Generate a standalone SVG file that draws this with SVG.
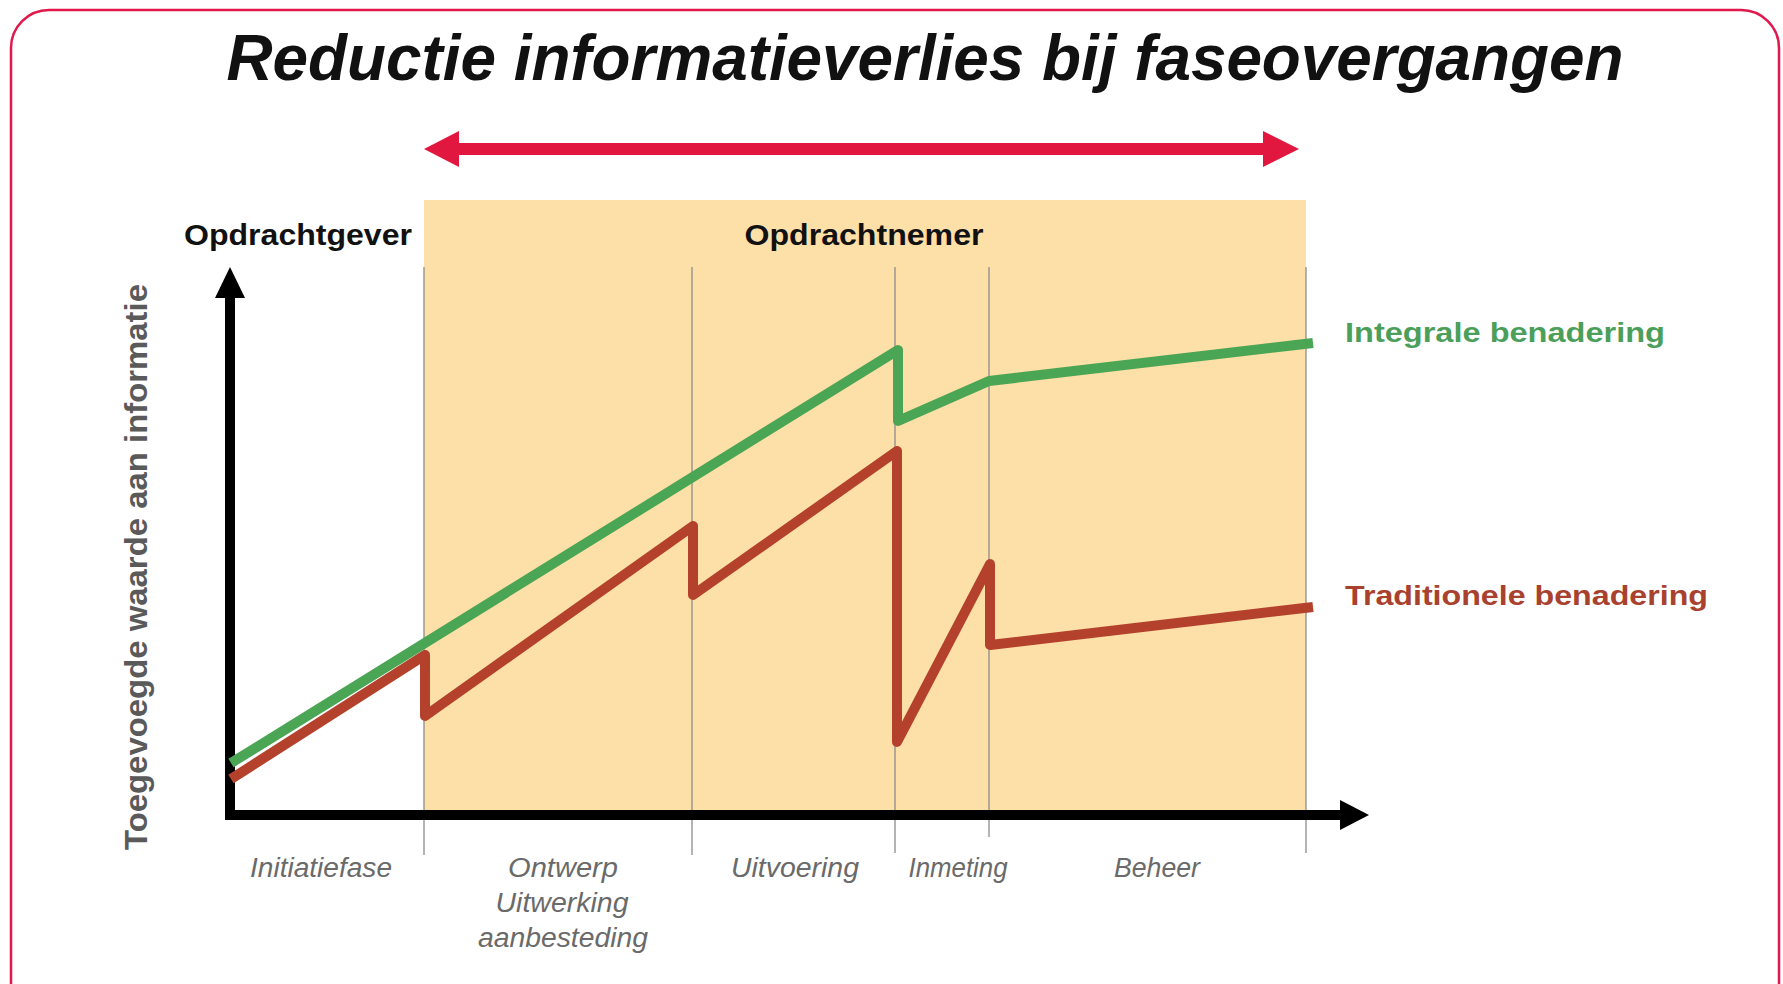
<svg xmlns="http://www.w3.org/2000/svg" width="1783" height="984" viewBox="0 0 1783 984">
  <style>
    .title { font-family: "Liberation Sans", Arial, sans-serif; font-weight: bold; font-style: italic; fill: #111; }
    .party { font-family: "Liberation Sans", Arial, sans-serif; font-weight: bold; fill: #111; font-size: 29px; }
    .phase { font-family: "Liberation Sans", Arial, sans-serif; font-style: italic; fill: #6a6a6a; font-size: 27px; }
    .ylabel { font-family: "Liberation Sans", Arial, sans-serif; font-weight: bold; fill: #5a5a5a; font-size: 31px; }
    .legend { font-family: "Liberation Sans", Arial, sans-serif; font-weight: bold; font-size: 28px; }
    .divider { stroke: #8c8c8c; stroke-width: 1.3; fill: none; }
    .axis { stroke: #000; stroke-width: 10; fill: none; }
    .series { fill: none; stroke-width: 10; stroke-linejoin: round; stroke-linecap: butt; }
  </style>

  <rect x="0" y="0" width="1783" height="984" fill="#ffffff"/>

  <g id="frame">
    <rect x="11" y="10" width="1768" height="1040" rx="38" ry="38" fill="none" stroke="#e2174b" stroke-width="2.5"/>
  </g>

  <g id="title">
    <text class="title" x="925" y="80" font-size="64" text-anchor="middle" textLength="1397" lengthAdjust="spacingAndGlyphs">Reductie informatieverlies bij faseovergangen</text>
  </g>

  <g id="contractor-zone">
    <rect x="424" y="200" width="882" height="614" fill="#fddfa8"/>
  </g>

  <g id="span-arrow">
    <rect x="457" y="143" width="808" height="12" fill="#e2173f"/>
    <polygon points="424,149 459,131 459,167" fill="#e2173f"/>
    <polygon points="1299,149 1263,131 1263,167" fill="#e2173f"/>
  </g>

  <g id="party-labels">
    <text class="party" x="298" y="245" text-anchor="middle" textLength="228" lengthAdjust="spacingAndGlyphs">Opdrachtgever</text>
    <text class="party" x="864" y="245" text-anchor="middle" textLength="239" lengthAdjust="spacingAndGlyphs">Opdrachtnemer</text>
  </g>

  <g id="dividers">
    <line class="divider" x1="424" y1="267" x2="424" y2="855"/>
    <line class="divider" x1="692" y1="267" x2="692" y2="855"/>
    <line class="divider" x1="895" y1="267" x2="895" y2="853"/>
    <line class="divider" x1="989" y1="267" x2="989" y2="837"/>
    <line class="divider" x1="1306" y1="267" x2="1306" y2="853"/>
  </g>

  <g id="axes">
    <line class="axis" x1="230" y1="295" x2="230" y2="819"/>
    <polygon points="230,267 245,298 215,298" fill="#000"/>
    <line class="axis" x1="225" y1="815" x2="1343" y2="815"/>
    <polygon points="1369,815 1340,800 1340,830" fill="#000"/>
  </g>

  <g id="y-label">
    <text class="ylabel" transform="translate(147,567) rotate(-90)" x="0" y="0" text-anchor="middle" textLength="566" lengthAdjust="spacingAndGlyphs">Toegevoegde waarde aan informatie</text>
  </g>

  <g id="connectors">
    <polyline id="integrale" class="series" stroke="#4aa654" points="231,763 898,350 898,421 989,381 1313,343"/>
    <polyline id="traditionele" class="series" stroke="#b4412c" points="231,779 425,655 425,716 693,526 693,595 897,451 897,742 990,564 990,645 1313,607"/>
  </g>

  <g id="legend-integrale">
    <text class="legend" x="1345" y="342" fill="#4c9f5b" textLength="320" lengthAdjust="spacingAndGlyphs">Integrale benadering</text>
  </g>
  <g id="legend-traditionele">
    <text class="legend" x="1345" y="605" fill="#a9412f" textLength="363" lengthAdjust="spacingAndGlyphs">Traditionele benadering</text>
  </g>

  <g id="phase-labels">
    <text class="phase" x="321" y="877" text-anchor="middle" textLength="142" lengthAdjust="spacingAndGlyphs">Initiatiefase</text>
    <text class="phase" x="563" y="877" text-anchor="middle" textLength="110" lengthAdjust="spacingAndGlyphs">Ontwerp</text>
    <text class="phase" x="562" y="912" text-anchor="middle" textLength="133" lengthAdjust="spacingAndGlyphs">Uitwerking</text>
    <text class="phase" x="563" y="947" text-anchor="middle" textLength="170" lengthAdjust="spacingAndGlyphs">aanbesteding</text>
    <text class="phase" x="795" y="877" text-anchor="middle" textLength="128" lengthAdjust="spacingAndGlyphs">Uitvoering</text>
    <text class="phase" x="958" y="877" text-anchor="middle" textLength="99" lengthAdjust="spacingAndGlyphs">Inmeting</text>
    <text class="phase" x="1157" y="877" text-anchor="middle" textLength="86" lengthAdjust="spacingAndGlyphs">Beheer</text>
  </g>
</svg>
